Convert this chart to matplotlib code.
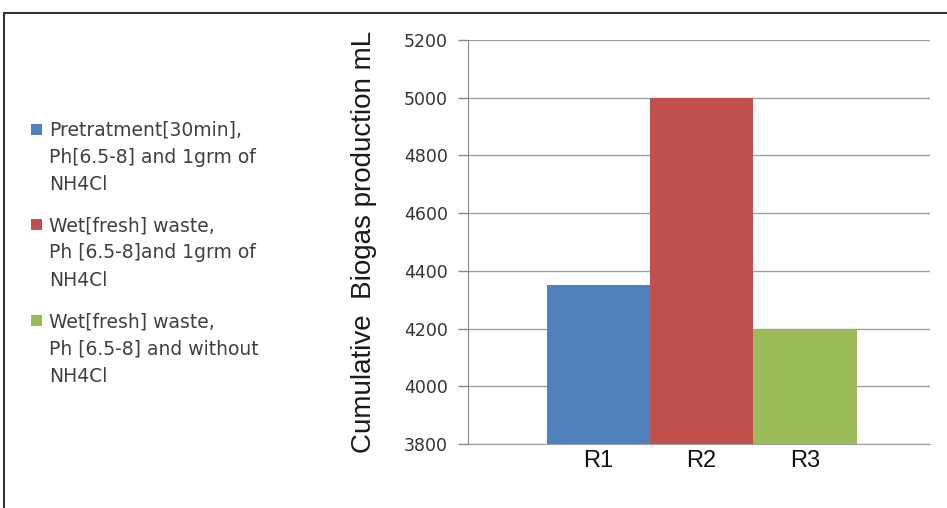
import matplotlib.pyplot as plt
from matplotlib.patches import Rectangle

# data
reactors = ['R1', 'R2', 'R3']
biogas_ml = [4350, 5000, 4200]
legend_labels = [
    'Pretratment[30min],\nPh[6.5-8] and 1grm of\nNH4Cl',
    'Wet[fresh] waste,\nPh [6.5-8]and 1grm of\nNH4Cl',
    'Wet[fresh] waste,\nPh [6.5-8] and without\nNH4Cl',
]
y_ticks = [3800, 4000, 4200, 4400, 4600, 4800, 5000, 5200]

colors = ['#4F81BD', '#C0504D', '#9BBB59']
W, H = 947, 508

fig = plt.figure(figsize=(W / 100, H / 100), dpi=100)
ax = fig.add_axes([468 / W, 1 - 444 / H, (930 - 468) / W, (444 - 40) / H])

x = list(range(len(reactors)))
ax.bar(x, biogas_ml, width=1.0, color=colors, zorder=3)

ax.set_ylim(3800, 5200)
ax.set_yticks(y_ticks)
ax.set_xlim(-1.26, 3.21)
ax.set_xticks(x)
ax.set_xticklabels(reactors, family='Liberation Sans', fontsize=17, color='#111111')
ax.tick_params(axis='x', length=0, pad=4)
ax.tick_params(axis='y', length=7.5, width=1, color='#888888', labelsize=12.5,
               labelcolor='#333333', pad=7)

ax.grid(axis='y', color='#a0a0a0', linewidth=1, zorder=0)
for side in ['top', 'right']:
    ax.spines[side].set_visible(False)
ax.spines['left'].set_color('#888888')
ax.spines['bottom'].set_color('#a0a0a0')

ax.set_ylabel('Cumulative  Biogas production mL', family='Liberation Sans',
              fontsize=20, color='#1a1a1a', labelpad=19)

# legend drawn by hand so the square sits on the first line of each entry
entry_tops = [130, 225, 321]
for label, c, yc in zip(legend_labels, colors, entry_tops):
    fig.patches.append(Rectangle((31 / W, 1 - (yc + 5) / H), 11 / W, 11 / H,
                                 transform=fig.transFigure,
                                 facecolor=c, edgecolor='none'))
    fig.text(49 / W, 1 - (yc - 9) / H, label, ha='left', va='top',
             family='DejaVu Sans', fontsize=13.5, color='#404040',
             linespacing=1.55)

# outer frame of the original chart area
fig.patches.append(Rectangle((4 / W, -0.1), 1.2, 1.1 - 13 / H,
                             transform=fig.transFigure, fill=False,
                             edgecolor='#333333', linewidth=1.5))

fig.savefig('out.png', dpi=100)
